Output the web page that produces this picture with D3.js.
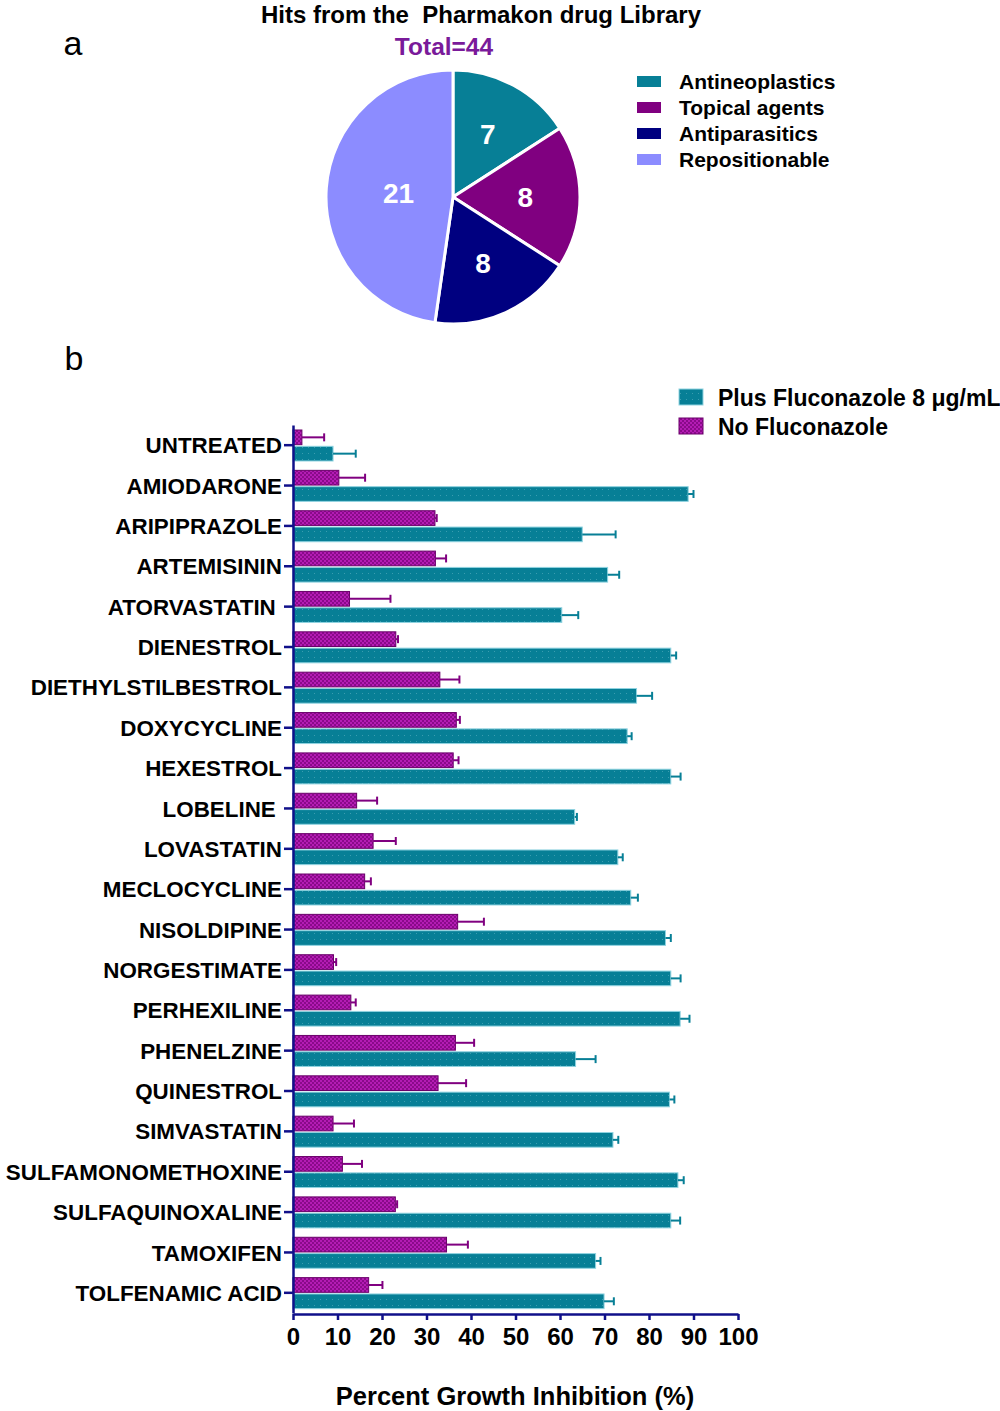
<!DOCTYPE html>
<html><head><meta charset="utf-8">
<script src="https://cdn.jsdelivr.net/npm/d3@7"></script>
<style>body{margin:0;background:#fff}svg{display:block}text{font-family:"Liberation Sans",Arial,sans-serif;font-weight:bold}</style>
</head><body><svg id="c" width="1000" height="1411"></svg>
<script>
// ---- pie data ----
const pieCats = ["Antineoplastics","Topical agents","Antiparasitics","Repositionable"];
const pieVals = [7,8,8,21];
const pieColors = ["#077f96","#800080","#000080","#8c8cff"];

// ---- bar data ----
const drugs = ["UNTREATED","AMIODARONE","ARIPIPRAZOLE","ARTEMISININ","ATORVASTATIN ","DIENESTROL","DIETHYLSTILBESTROL","DOXYCYCLINE","HEXESTROL","LOBELINE ","LOVASTATIN","MECLOCYCLINE","NISOLDIPINE","NORGESTIMATE","PERHEXILINE","PHENELZINE","QUINESTROL","SIMVASTATIN","SULFAMONOMETHOXINE","SULFAQUINOXALINE","TAMOXIFEN","TOLFENAMIC ACID"];
const noFlu    = [2.0,10.3,31.9,32.0,12.7,23.1,33.0,36.7,36.0,14.3,18.0,16.1,37.0,9.1,13.0,36.5,32.6,9.0,11.1,23.0,34.5,17.0];
const noFluErr = [5.0,5.9,0.4,2.4,9.2,0.5,4.4,0.8,1.2,4.6,5.1,1.4,5.9,0.6,1.1,4.2,6.3,4.7,4.4,0.4,4.8,3.1];
const plusFlu    = [9.0,88.8,65.0,70.7,60.4,84.9,77.2,75.1,84.9,63.3,73.0,75.9,83.7,84.9,87.0,63.5,84.6,71.9,86.5,84.9,68.0,69.9];
const plusFluErr = [5.1,1.2,7.5,2.6,3.7,1.2,3.5,1.0,2.2,0.5,1.1,1.6,1.2,2.2,2.1,4.5,1.1,1.2,1.3,2.1,1.1,2.2];
const seriesNames = ["No Fluconazole","Plus Fluconazole 8 μg/mL"];
const xTicks = [0,10,20,30,40,50,60,70,80,90,100];

const svg = d3.select("#c");
const TEAL = "#077f96", PURP = "#800080", NAVY = "#10108a";

// patterns
const defs = svg.append("defs");
const pc = defs.append("pattern").attr("id","check").attr("patternUnits","userSpaceOnUse").attr("width",4).attr("height",4);
pc.append("rect").attr("width",4).attr("height",4).attr("fill","#8a0a8a");
pc.append("rect").attr("width",2).attr("height",2).attr("fill","#b41cb4");
pc.append("rect").attr("x",2).attr("y",2).attr("width",2).attr("height",2).attr("fill","#b41cb4");
const pd = defs.append("pattern").attr("id","dots").attr("patternUnits","userSpaceOnUse").attr("width",6).attr("height",6);
pd.append("rect").attr("width",6).attr("height",6).attr("fill",TEAL);
pd.append("rect").attr("x",2).attr("y",3).attr("width",1).attr("height",1).attr("fill","#3a9db0");

// ---- Panel a ----
svg.append("text").attr("x",73).attr("y",55).attr("text-anchor","middle").style("font-weight","normal").attr("font-size",34).text("a");
svg.append("text").attr("x",481).attr("y",23).attr("text-anchor","middle").attr("font-size",24).style("white-space","pre").text("Hits from the  Pharmakon drug Library");
svg.append("text").attr("x",444).attr("y",55).attr("text-anchor","middle").attr("font-size",24.5).attr("fill","#7a1a9a").text("Total=" + d3.sum(pieVals));

const R = 127;
const pg = svg.append("g").attr("transform","translate(453,197)");
const pie = d3.pie().sort(null).value(d=>d)(pieVals);
const arc = d3.arc().innerRadius(0).outerRadius(R);
pg.selectAll("path").data(pie).join("path").attr("d",arc).attr("fill",(d,i)=>pieColors[i]).attr("stroke","#fff").attr("stroke-width",3);
pg.selectAll("text.lbl").data(pie).join("text").attr("class","lbl")
  .attr("transform",d=>{const lr = (d.endAngle-d.startAngle) > Math.PI*0.8 ? R*0.43 : R*0.57;
     const c = d3.arc().innerRadius(lr).outerRadius(lr).centroid(d); return `translate(${c})`;})
  .attr("text-anchor","middle").attr("dy","0.36em").attr("font-size",28).attr("fill","#fff").text(d=>d.data);

const lg = svg.append("g");
pieCats.forEach((c,i)=>{
  lg.append("rect").attr("x",637).attr("y",76+i*26).attr("width",24).attr("height",11).attr("fill",pieColors[i]);
  lg.append("text").attr("x",679).attr("y",89+i*26).attr("font-size",21).text(c);
});

// ---- Panel b ----
svg.append("text").attr("x",74).attr("y",370).attr("text-anchor","middle").style("font-weight","normal").attr("font-size",34).text("b");

const x = d3.scaleLinear().domain([0,100]).range([293,738]);
const y = d3.scaleBand().domain(drugs).range([425,1313]).padding(0);
const ys = d3.scaleBand().domain(seriesNames).range([5,36]).paddingInner(0.1);

const bars = svg.append("g");
const series = [
  {name:seriesNames[0], vals:noFlu, errs:noFluErr, fill:"url(#check)", stroke:"#6a006a", ec:PURP},
  {name:seriesNames[1], vals:plusFlu, errs:plusFluErr, fill:"url(#dots)", stroke:"#8fd3e0", ec:TEAL}
];
series.forEach(s=>{
  const g = bars.append("g");
  g.selectAll("rect").data(drugs).join("rect")
    .attr("x",x(0)).attr("y",d=>y(d)+ys(s.name))
    .attr("width",(d,i)=>x(s.vals[i])-x(0)).attr("height",ys.bandwidth())
    .attr("fill",s.fill).attr("stroke",s.stroke).attr("stroke-width",1);
  g.selectAll("line.e").data(drugs).join("line").attr("class","e")
    .attr("x1",(d,i)=>x(s.vals[i])).attr("x2",(d,i)=>x(s.vals[i]+s.errs[i]))
    .attr("y1",d=>y(d)+ys(s.name)+ys.bandwidth()/2).attr("y2",d=>y(d)+ys(s.name)+ys.bandwidth()/2)
    .attr("stroke",s.ec).attr("stroke-width",2);
  g.selectAll("line.c").data(drugs).join("line").attr("class","c")
    .attr("x1",(d,i)=>x(s.vals[i]+s.errs[i])).attr("x2",(d,i)=>x(s.vals[i]+s.errs[i]))
    .attr("y1",d=>y(d)+ys(s.name)+ys.bandwidth()/2-4).attr("y2",d=>y(d)+ys(s.name)+ys.bandwidth()/2+4)
    .attr("stroke",s.ec).attr("stroke-width",2);
});

// y axis
const yAx = svg.append("g").attr("transform",`translate(${x(0)},0)`)
  .call(d3.axisLeft(y).tickSize(9).tickSizeOuter(0).tickPadding(2));
yAx.select(".domain").attr("stroke",NAVY).attr("stroke-width",2.5);
yAx.selectAll(".tick line").attr("stroke",NAVY).attr("stroke-width",2.5);
yAx.selectAll(".tick text").attr("fill","#000").attr("font-size",22.4).attr("font-family","Liberation Sans, Arial, sans-serif").attr("font-weight","bold").style("white-space","pre").attr("dy","0.36em");

// x axis
const xAx = svg.append("g").attr("transform","translate(0,1314)")
  .call(d3.axisBottom(x).tickValues(xTicks).tickSize(6).tickSizeOuter(0).tickPadding(8));
xAx.select(".domain").attr("stroke",NAVY).attr("stroke-width",2.5);
xAx.selectAll(".tick line").attr("stroke",NAVY).attr("stroke-width",2.5);
xAx.selectAll(".tick text").attr("fill","#000").attr("font-size",24).attr("font-family","Liberation Sans, Arial, sans-serif").attr("font-weight","bold");

svg.append("text").attr("x",515).attr("y",1405).attr("text-anchor","middle").attr("font-size",25.5).text("Percent Growth Inhibition (%)");

// bar legend
const bl = [ {n:seriesNames[1], f:"url(#dots)", s:"#8fd3e0"}, {n:seriesNames[0], f:"url(#check)", s:"#6a006a"} ];
bl.forEach((d,i)=>{
  svg.append("rect").attr("x",679).attr("y",389+i*29).attr("width",24).attr("height",16).attr("fill",d.f).attr("stroke",d.s);
  svg.append("text").attr("x",718).attr("y",406+i*29).attr("font-size",23).text(d.n);
});
</script></body></html>
